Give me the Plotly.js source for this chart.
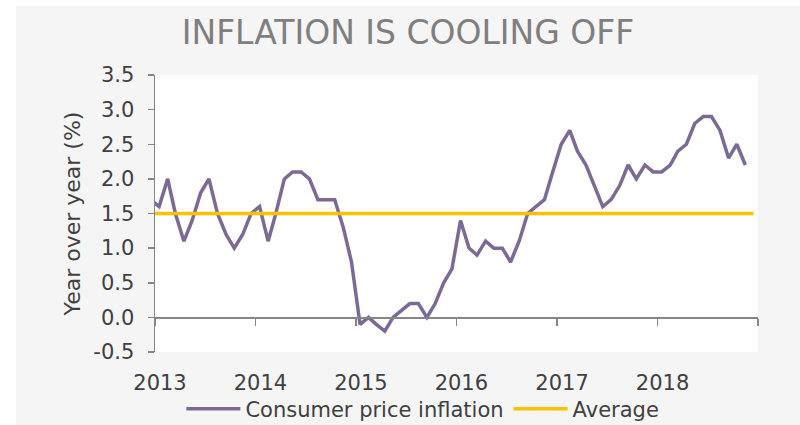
<!DOCTYPE html>
<html>
<head>
<meta charset="utf-8">
<script src="https://cdn.plot.ly/plotly-3.0.1.min.js"></script>
<style>
  html, body { margin: 0; padding: 0; background: #ffffff; width: 800px; height: 425px; overflow: hidden; }
  #chart { position: absolute; left: 16px; top: 6px; width: 784px; height: 419px; }
</style>
</head>
<body>
<div id="chart"></div>
<script>
// Monthly year-over-year CPI inflation (%), Dec 2012 .. Nov 2018
const startYear = 2012, startMonth = 12;
const cpi = [
  1.7,
  1.6, 2.0, 1.5, 1.1, 1.4, 1.8, 2.0, 1.5, 1.2, 1.0, 1.2, 1.5,
  1.6, 1.1, 1.5, 2.0, 2.1, 2.1, 2.0, 1.7, 1.7, 1.7, 1.3, 0.8,
  -0.1, 0.0, -0.1, -0.2, 0.0, 0.1, 0.2, 0.2, 0.0, 0.2, 0.5, 0.7,
  1.4, 1.0, 0.9, 1.1, 1.0, 1.0, 0.8, 1.1, 1.5, 1.6, 1.7, 2.1,
  2.5, 2.7, 2.4, 2.2, 1.9, 1.6, 1.7, 1.9, 2.2, 2.0, 2.2, 2.1,
  2.1, 2.2, 2.4, 2.5, 2.8, 2.9, 2.9, 2.7, 2.3, 2.5, 2.2
];
// Average series (Dec 2012 .. Dec 2018)
const averageValue = 1.5;
const averageCount = 73;
const yearLabels = ['2013', '2014', '2015', '2016', '2017', '2018'];
const yearTicks = ['2013-01-01', '2014-01-01', '2015-01-01', '2016-01-01', '2017-01-01', '2018-01-01', '2019-01-01'];
const yTicks = [-0.5, 0.0, 0.5, 1.0, 1.5, 2.0, 2.5, 3.0, 3.5];
const yTickLabels = ['-0.5', '0.0', '0.5', '1.0', '1.5', '2.0', '2.5', '3.0', '3.5'];

function monthDates(n) {
  const out = [];
  for (let i = 0; i < n; i++) {
    const m0 = (startMonth - 1) + i;
    const y = startYear + Math.floor(m0 / 12);
    const m = (m0 % 12) + 1;
    out.push(y + '-' + String(m).padStart(2, '0') + '-16');
  }
  return out;
}
const cpiDates = monthDates(cpi.length);
const avgDates = monthDates(averageCount);
const avgValues = avgDates.map(() => averageValue);

const xRange = ['2013-01-01', '2019-01-01'];
const FAM = 'DejaVu Sans, Verdana, sans-serif';
const tickFont = { family: FAM, size: 21, color: '#404040' };

const traces = [
  {
    x: cpiDates, y: cpi, type: 'scatter', mode: 'lines',
    name: 'Consumer price inflation',
    line: { color: '#7b6a96', width: 3.5 },
    xaxis: 'x', yaxis: 'y'
  },
  {
    x: avgDates, y: avgValues, type: 'scatter', mode: 'lines',
    name: 'Average',
    line: { color: '#ffc000', width: 3.5 },
    xaxis: 'x2', yaxis: 'y'
  }
];

const layout = {
  width: 784, height: 419,
  paper_bgcolor: '#f5f5f5',
  plot_bgcolor: '#ffffff',
  margin: { l: 139, r: 42, t: 69, b: 73, pad: 0, autoexpand: false },
  font: tickFont,
  title: {
    text: 'INFLATION IS COOLING OFF',
    font: { family: FAM, size: 33, color: '#7f7f7f' },
    x: 0.5, xanchor: 'center', xref: 'container',
    y: 0.937, yanchor: 'middle', yref: 'container'
  },
  xaxis: {
    type: 'date', range: xRange,
    tickmode: 'array', tickvals: yearTicks.slice(0, 6), ticktext: yearLabels,
    ticks: '', showline: false, showgrid: false, zeroline: false,
    tickfont: tickFont, ticklabelshift: 5, ticklabelstandoff: 16,
    automargin: false, fixedrange: true
  },
  xaxis2: {
    type: 'date', range: xRange, overlaying: 'x', anchor: 'free', position: 0.125,
    tickmode: 'array', tickvals: yearTicks,
    ticks: 'outside', ticklen: 7, tickwidth: 1.5, tickcolor: '#868686',
    showline: true, linecolor: '#868686', linewidth: 1.5,
    showticklabels: false, showgrid: false, zeroline: false, fixedrange: true
  },
  yaxis: {
    range: [-0.5, 3.5],
    tickmode: 'array', tickvals: yTicks, ticktext: yTickLabels,
    ticks: 'outside', ticklen: 6, tickwidth: 1.5, tickcolor: '#868686',
    showline: true, linecolor: '#868686', linewidth: 1.5,
    showgrid: false, zeroline: false,
    tickfont: tickFont, ticklabelstandoff: 9,
    title: { text: 'Year over year (%)', font: { family: FAM, size: 22, color: '#404040' }, standoff: 6 },
    automargin: false, fixedrange: true
  },
  showlegend: true,
  legend: {
    orientation: 'h', xref: 'container', x: 0.519, xanchor: 'center',
    yref: 'container', y: 0.038, yanchor: 'middle',
    font: { family: FAM, size: 21, color: '#404040' },
    bgcolor: 'rgba(0,0,0,0)', itemwidth: 54, tracegroupgap: 0
  }
};

Plotly.newPlot('chart', traces, layout, { displayModeBar: false, staticPlot: true });
</script>
</body>
</html>
